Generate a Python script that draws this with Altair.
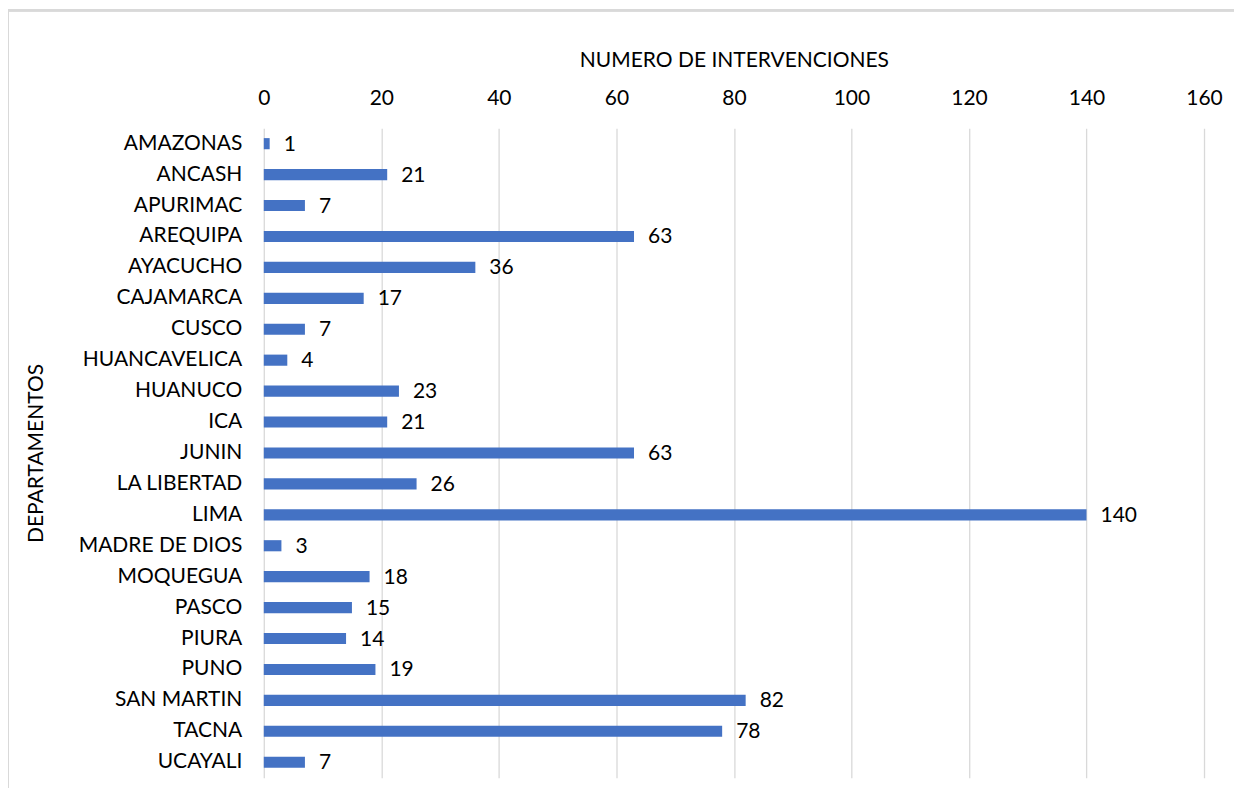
import altair as alt
import pandas as pd

departamentos = ["AMAZONAS", "ANCASH", "APURIMAC", "AREQUIPA ", "AYACUCHO", "CAJAMARCA",
                 "CUSCO", "HUANCAVELICA", "HUANUCO", "ICA", "JUNIN", "LA LIBERTAD", "LIMA",
                 "MADRE DE DIOS", "MOQUEGUA", "PASCO", "PIURA", "PUNO", "SAN MARTIN",
                 "TACNA", "UCAYALI"]
intervenciones = [1, 21, 7, 63, 36, 17, 7, 4, 23, 21, 63, 26, 140, 3, 18, 15, 14, 19, 82, 78, 7]
x_ticks = [0, 20, 40, 60, 80, 100, 120, 140, 160]

df = pd.DataFrame({"dep": departamentos, "n": intervenciones})

FONT = "Lato"
FS = 21
W, H = 941, 650

y_enc = alt.Y("dep:N", sort=departamentos,
              scale=alt.Scale(paddingInner=0.64, paddingOuter=0.32),
              axis=alt.Axis(title="DEPARTAMENTOS", domain=False, ticks=False,
                            labelPadding=22, labelFontSize=FS, labelLimit=300,
                            titleFontSize=FS, labelColor="#000", titleColor="#000",
                            labelFont=FONT, titleFont=FONT, titleFontWeight="normal",
                            titleX=-227, titleY=H / 2, titleAngle=-90,
                            titleAlign="center", titleBaseline="middle"))
x_enc = alt.X("n:Q", scale=alt.Scale(domain=[0, 160], nice=False),
              axis=alt.Axis(orient="top", values=x_ticks, title="NUMERO DE INTERVENCIONES",
                            domain=False, ticks=False, labelPadding=20, labelFlush=False,
                            grid=True, gridColor="#d9d9d9", gridWidth=1.3,
                            labelFontSize=FS, titleFontSize=FS, labelColor="#000",
                            titleColor="#000", labelFont=FONT, titleFont=FONT,
                            titleFontWeight="normal", titleX=W / 2, titleY=-68,
                            titleAlign="center", titleBaseline="middle"))

bars = alt.Chart(df).mark_bar(color="#4472C4").encode(x=x_enc, y=y_enc)
labels = alt.Chart(df).mark_text(align="left", dx=14, dy=1, fontSize=FS, font=FONT,
                                 color="#000").encode(
    x=alt.X("n:Q"), y=alt.Y("dep:N", sort=departamentos), text="n:Q")

frame_top = alt.Chart(df).mark_rule(color="#d9d9d9", strokeWidth=2).encode(
    x=alt.value(-256), x2=alt.value(W + 40), y=alt.value(-118))
frame_left = alt.Chart(df).mark_rule(color="#d9d9d9", strokeWidth=2).encode(
    x=alt.value(-256), y=alt.value(-118), y2=alt.value(H + 30))

chart = alt.layer(bars, labels, frame_top, frame_left).properties(
    width=W, height=H,
    background="white",
    autosize=alt.AutoSizeParams(type="none"),
    padding={"left": 256, "top": 120, "right": 30, "bottom": 10},
).configure_view(strokeWidth=0)

chart.save("out.html", embed_options={"renderer": "svg", "actions": False})
